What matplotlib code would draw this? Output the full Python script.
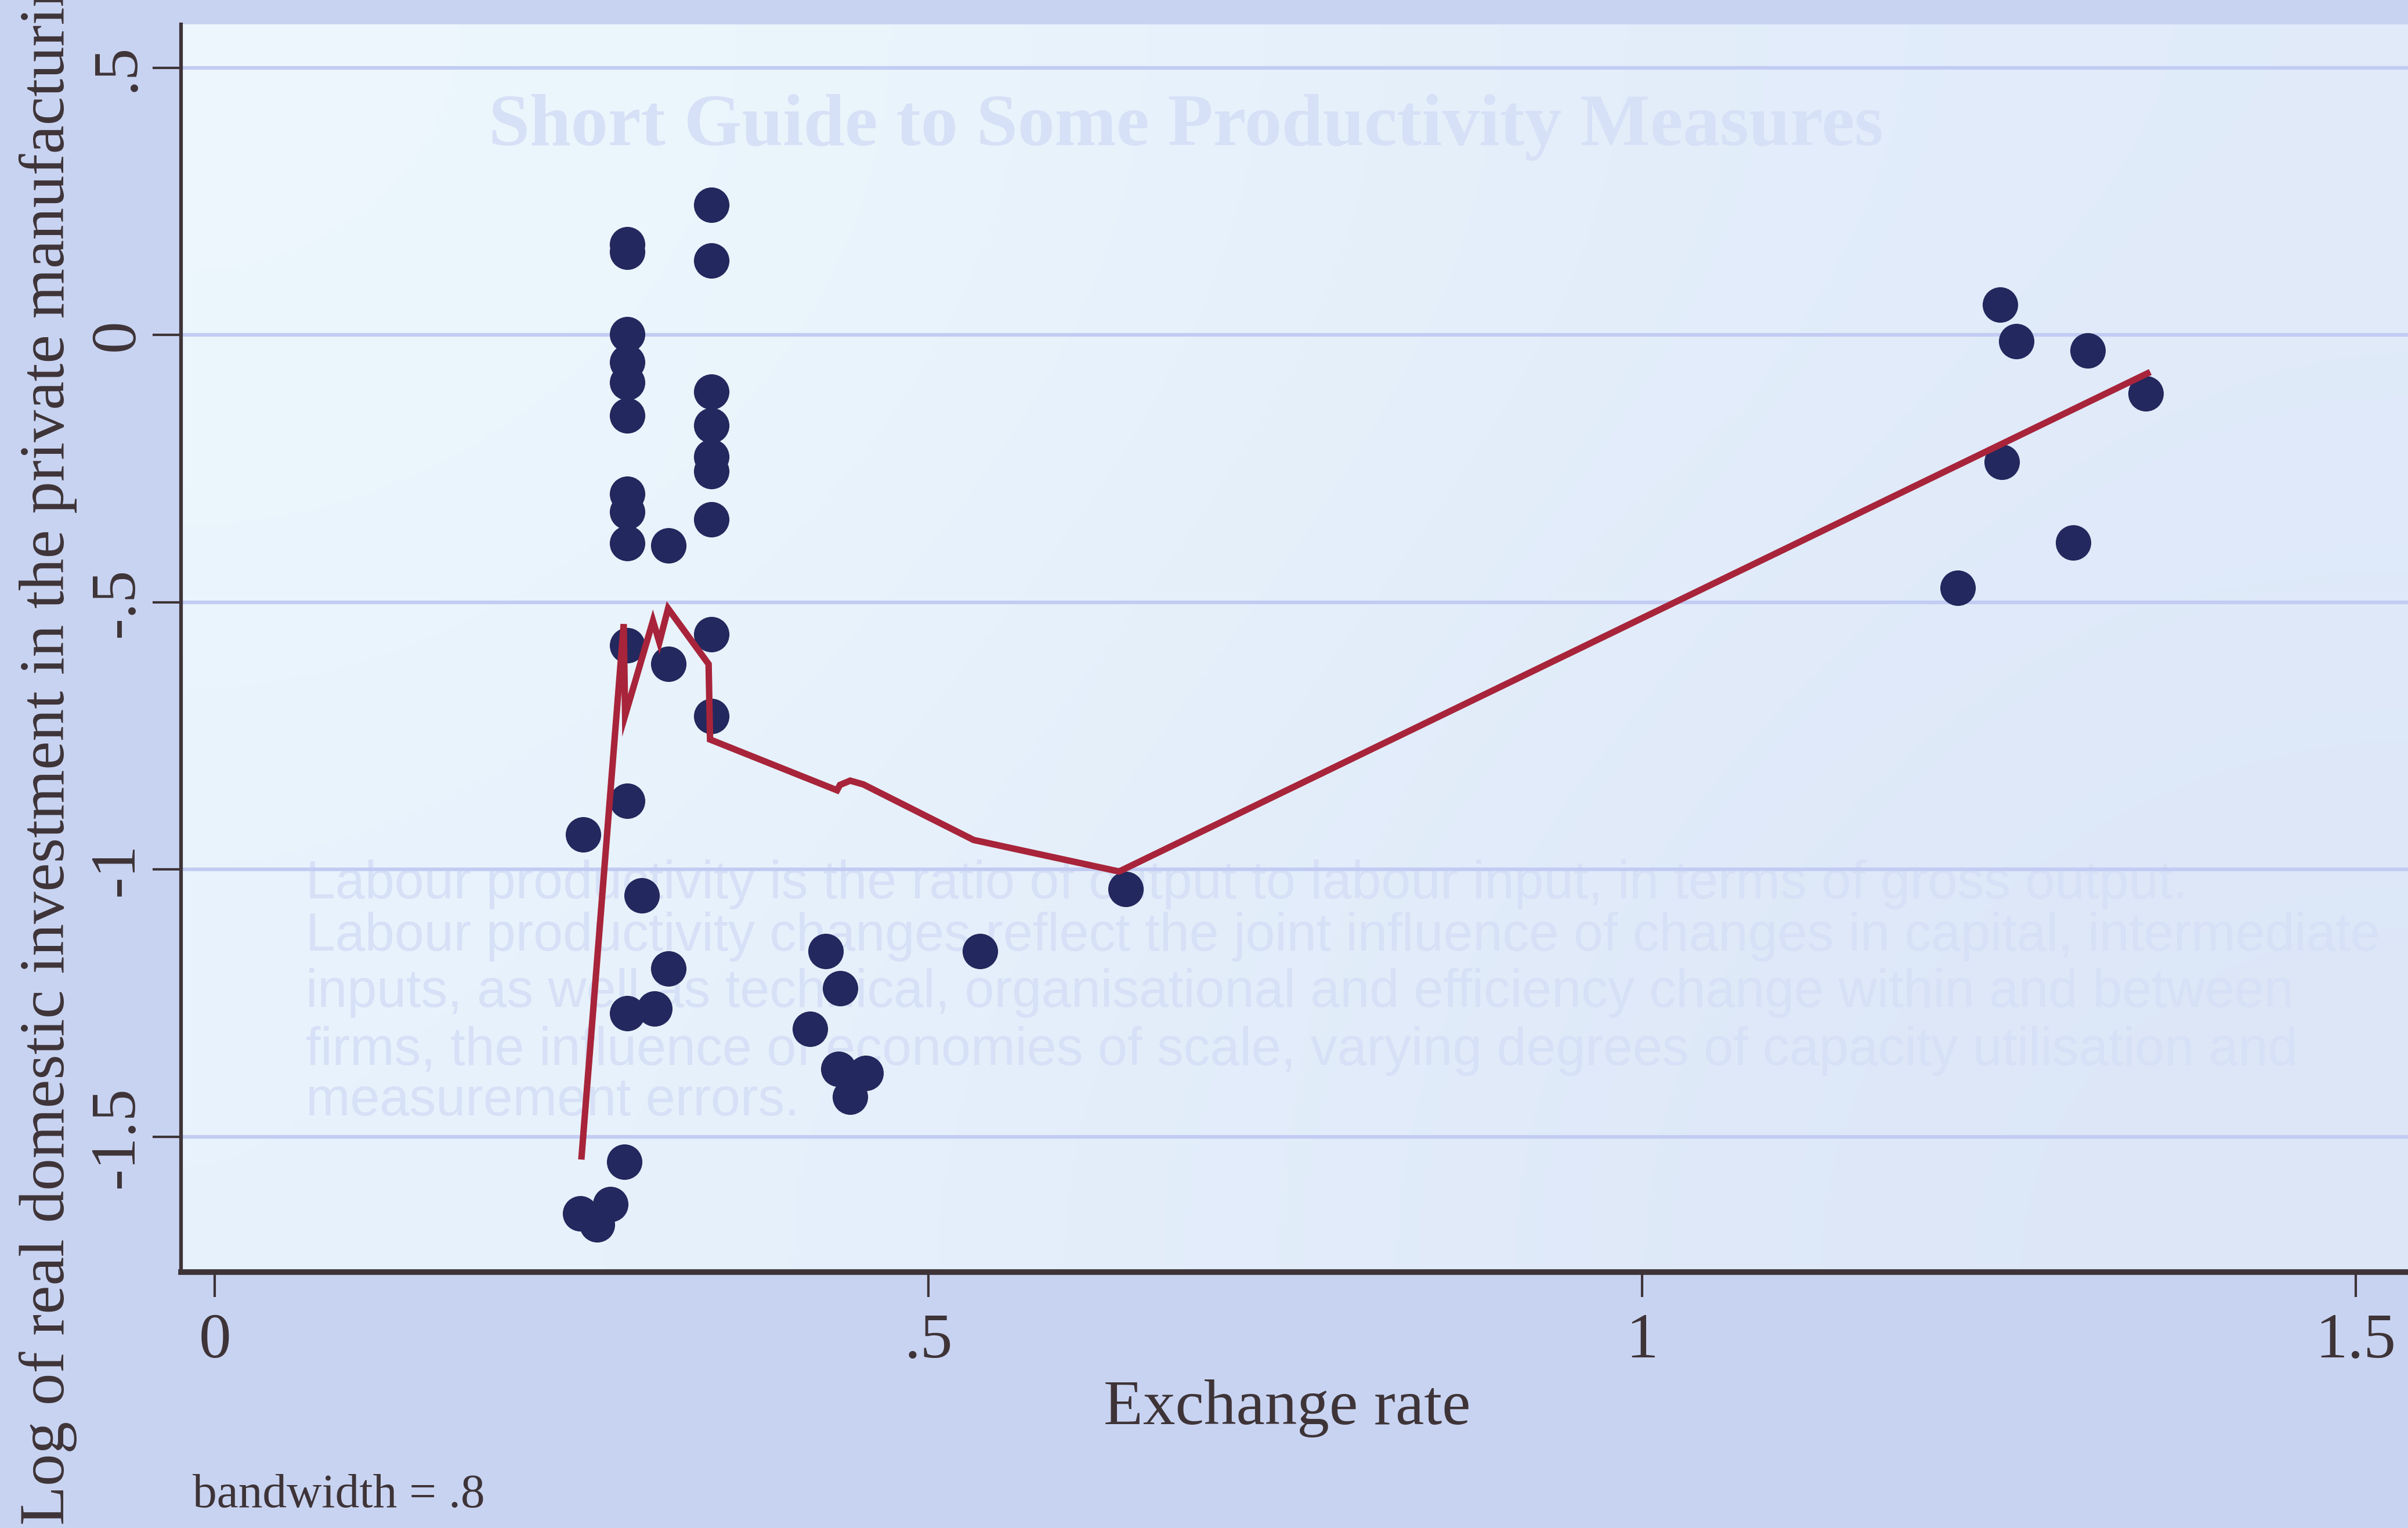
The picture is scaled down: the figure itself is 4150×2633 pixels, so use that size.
import numpy as np
import matplotlib
matplotlib.use("Agg")
import matplotlib.pyplot as plt

# scatter: exchange rate vs log real domestic investment
exch = [0.289, 0.289, 0.289, 0.289, 0.289, 0.289, 0.289, 0.289, 0.289, 0.289,
        0.289, 0.287, 0.289, 0.308,
        0.348, 0.348, 0.348, 0.348, 0.348, 0.348, 0.348, 0.348, 0.348,
        0.318, 0.318, 0.258, 0.299, 0.318,
        0.428, 0.438, 0.417, 0.437, 0.456, 0.445, 0.536, 0.638,
        0.256, 0.268, 0.277,
        1.251, 1.262, 1.312, 1.353, 1.252, 1.302, 1.221]
loginv = [0.170, 0.156, 0.001, -0.051, -0.089, -0.151, -0.297, -0.331, -0.390, -0.581,
          -0.872, -1.547, -1.269, -1.260,
          0.243, 0.139, -0.106, -0.169, -0.228, -0.255, -0.345, -0.560, -0.713,
          -0.394, -0.616, -0.935, -1.049, -1.186,
          -1.153, -1.222, -1.299, -1.374, -1.381, -1.426, -1.153, -1.037,
          -1.644, -1.664, -1.626,
          0.057, -0.012, -0.029, -0.109, -0.238, -0.389, -0.473]

# lowess fitted values (bandwidth .8)
fit_x = [0.257, 0.2865, 0.2875, 0.307, 0.3115, 0.3176, 0.346, 0.347,
         0.436, 0.438, 0.4452, 0.4544, 0.5317, 0.6336, 1.354]
fit_y = [-1.537, -0.541, -0.712, -0.535, -0.575, -0.512, -0.616, -0.757,
         -0.852, -0.842, -0.834, -0.841, -0.945, -1.004, -0.072]

xticks = [0, 0.5, 1, 1.5]
xticklabels = ["0", ".5", "1", "1.5"]
yticks = [-1.5, -1, -0.5, 0, 0.5]
yticklabels = ["-1.5", "-1", "-.5", "0", ".5"]

serif = "Liberation Serif"
ink = "#3e3438"

fig = plt.figure(figsize=(41.5, 26.33), dpi=100, facecolor="#c8d3f1")
ax = fig.add_axes([0.0752, 0.1675, 0.9248, 0.8165])

# plot region background, lighter at the top left like the photo
grad = np.array([[[0.93, 0.97, 0.99], [0.88, 0.92, 0.98]],
                 [[0.91, 0.95, 0.99], [0.86, 0.90, 0.97]]])
ax.imshow(grad, extent=[0, 1, 0, 1], transform=ax.transAxes, aspect="auto",
          interpolation="bicubic", zorder=0)

# faint show-through of the facing page, kept under the marks
ghost = "#d6e0f6"
ax.text(0.203, 0.905, "Short Guide to Some Productivity Measures", color=ghost,
        fontsize=92, family=serif, fontweight="bold", transform=fig.transFigure,
        zorder=0.5)
for ypos, line in zip([0.412, 0.378, 0.341, 0.303, 0.270],
                      ["Labour productivity is the ratio of output to labour input, in terms of gross output.",
                       "Labour productivity changes reflect the joint influence of changes in capital, intermediate",
                       "inputs, as well as technical, organisational and efficiency change within and between",
                       "firms, the influence of economies of scale, varying degrees of capacity utilisation and",
                       "measurement errors."]):
    ax.text(0.127, ypos, line, color=ghost, fontsize=66, family="Liberation Sans",
            transform=fig.transFigure, zorder=0.5)

for yv in yticks:
    ax.axhline(yv, color="#c2ccf3", lw=4.5, zorder=1)

ax.plot(exch, loginv, "o", ms=44, color="#23285e", mec="none", zorder=3)
ax.plot(fit_x, fit_y, "-", color="#a8243a", lw=8, zorder=4, solid_joinstyle="miter")

ax.set_xlim(-0.0236, 1.5366)
ax.set_ylim(-1.7535, 0.581)
ax.patch.set_alpha(0)

for s in ["top", "right"]:
    ax.spines[s].set_visible(False)
ax.spines["left"].set_color(ink)
ax.spines["left"].set_linewidth(4.5)
ax.spines["bottom"].set_color(ink)
ax.spines["bottom"].set_linewidth(7)

ax.set_xticks(xticks)
ax.set_xticklabels(xticklabels, family=serif, fontsize=80, color=ink)
ax.set_yticks(yticks)
ax.set_yticklabels(yticklabels, family=serif, fontsize=80, color=ink,
                   rotation=90, va="center")
ax.tick_params(axis="x", length=31, width=3, color=ink, pad=20)
ax.tick_params(axis="y", length=35, width=3, color=ink, pad=8)

fig.text(0.5345, 0.0680, "Exchange rate", family=serif, fontsize=80, color=ink,
         ha="center", va="baseline")
fig.text(0.0200, 0.002, "Log of real domestic investment in the private manufacturing sector",
         family=serif, fontsize=80, color=ink, rotation=90, ha="center", va="bottom")
fig.text(0.0800, 0.0137, "bandwidth = .8", family=serif, fontsize=60, color=ink,
         va="baseline")

fig.savefig("out.png", dpi=100, facecolor=fig.get_facecolor())
